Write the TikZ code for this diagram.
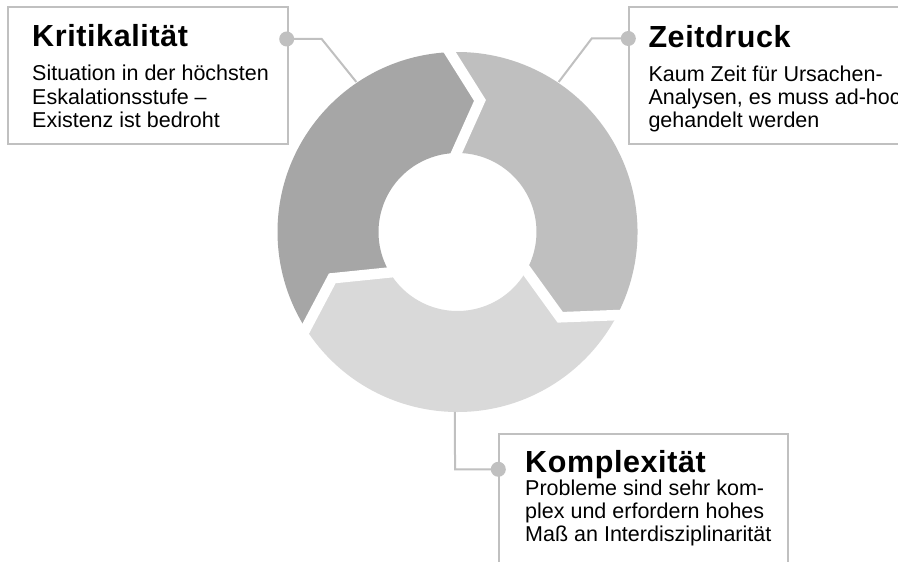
\documentclass[tikz,border=0pt]{standalone}
\usepackage{fontspec}
\setmainfont{Liberation Sans}
\newfontfamily\titlefont{Liberation Sans}[LetterSpace=2]
\definecolor{darkseg}{HTML}{A6A6A6}
\definecolor{medseg}{HTML}{BFBFBF}
\definecolor{lightseg}{HTML}{D9D9D9}
\definecolor{linegray}{HTML}{C0C0C0}
\tikzset{
  infobox/.style={draw=linegray, line width=2pt, fill=white},
  conn/.style={draw=linegray, line width=2pt},
  dotnode/.style={circle, fill=linegray, inner sep=0pt, minimum size=15pt},
  gapline/.style={draw=white, line width=10.5pt, line join=miter, shorten <=-8pt, shorten >=-8pt},
  titletext/.style={anchor=base west, inner sep=0pt, font=\titlefont\bfseries\fontsize{30.5}{32}\selectfont},
  bodytext/.style={anchor=base west, inner sep=0pt, font=\fontsize{21.5}{23}\selectfont}
}
\begin{document}
\begin{tikzpicture}[x=1pt, y=1pt]
\clip (0,0) rectangle (898,562);
\fill[white] (0,0) rectangle (898,562);
% ring
\begin{scope}[shift={(457.5,330)}]
  \fill[medseg] (-27.5:180) arc[start angle=-27.5, end angle=92.5, radius=180]
    -- (80.3:133.5) -- (90.8:79) arc[start angle=90.8, end angle=-29.2, radius=79]
    -- (-39.7:133.5) -- cycle;
  \fill[lightseg] (-147.5:180) arc[start angle=-147.5, end angle=-27.5, radius=180]
    -- (-39.7:133.5) -- (-29.2:79) arc[start angle=-29.2, end angle=-149.2, radius=79]
    -- (-159.7:133.5) -- cycle;
  \fill[darkseg] (92.5:180) arc[start angle=92.5, end angle=212.5, radius=180]
    -- (200.3:133.5) -- (210.8:79) arc[start angle=210.8, end angle=90.8, radius=79]
    -- (80.3:133.5) -- cycle;
  \draw[gapline] (92.5:180) -- (80.3:133.5) -- (90.8:79);
  \draw[gapline] (-27.5:180) -- (-39.7:133.5) -- (-29.2:79);
  \draw[gapline] (212.5:180) -- (200.3:133.5) -- (210.8:79);
  \coordinate (ringK) at (124:181);
  \coordinate (ringZ) at (56:181);
  \coordinate (ringC) at (-90.8:180);
\end{scope}
% boxes
\node[infobox, minimum width=280pt, minimum height=136.7pt, anchor=north west] (boxK) at (6.7,556) {};
\node[infobox, minimum width=300pt, minimum height=137.3pt, anchor=north west] (boxZ) at (628.3,556) {};
\node[infobox, minimum width=288.4pt, minimum height=150pt, anchor=north west] (boxC) at (498.3,128.7) {};
% connectors
\coordinate (elbK) at (321.7,523);
\coordinate (elbZ) at (591.7,523.5);
\coordinate (elbC) at (455,92.7);
\node[dotnode] (dotK) at (286.7,523) {};
\node[dotnode] (dotZ) at (628.3,523.5) {};
\node[dotnode] (dotC) at (498.3,92.7) {};
\draw[conn] (dotK.center) -- (elbK) -- (ringK);
\draw[conn] (dotZ.center) -- (elbZ) -- (ringZ);
\draw[conn] (dotC.center) -- (elbC) -- (ringC);
% texts
\node[titletext] (tK) at (32,515.3) {Kritikalität};
\node[bodytext] (k1) at (32,481) {Situation in der höchsten};
\node[bodytext] (k2) at (32,457.8) {Eskalationsstufe –};
\node[bodytext] (k3) at (32,434.6) {Existenz ist bedroht};
\node[titletext] (tZ) at (648.3,514) {Zeitdruck};
\node[bodytext] (z1) at (648.3,480.5) {Kaum Zeit für Ursachen-};
\node[bodytext] (z2) at (648.3,457.3) {Analysen, es muss ad-hoc};
\node[bodytext] (z3) at (648.3,434.3) {gehandelt werden};
\node[titletext] (tC) at (525,89.5) {Komplexität};
\node[bodytext] (c1) at (525,66) {Probleme sind sehr kom-};
\node[bodytext] (c2) at (525,43) {plex und erfordern hohes};
\node[bodytext] (c3) at (525,20) {Maß an Interdisziplinarität};
\end{tikzpicture}
\end{document}
